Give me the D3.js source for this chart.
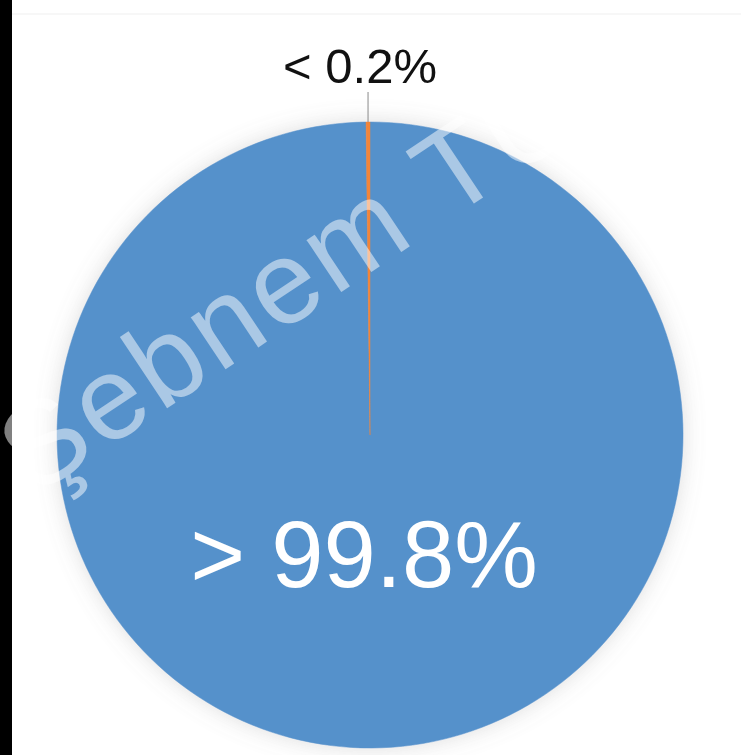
<!DOCTYPE html>
<html>
<head>
<meta charset="utf-8">
<script src="https://cdn.jsdelivr.net/npm/d3@7/dist/d3.min.js"></script>
<style>
  html, body { margin: 0; padding: 0; background: #ffffff; }
  svg { display: block; }
</style>
</head>
<body>
<svg id="chart" width="741" height="755"></svg>
<script>
// Shares of the two groups (percent), drawn clockwise from 12 o'clock
const categories = ["majority", "minority"];
const shares = [99.8, 0.2];
const labelPrefixes = ["> ", "< "];
const colors = ["#5591cb", "#f2853a"];
const watermark = "Şebnem TÜ";

const W = 741, H = 755;
const cx = 370, cy = 435, R = 313;

const svg = d3.select("#chart");

// Left dark strip of the frame
svg.append("rect").attr("x", 0).attr("y", 0).attr("width", 12).attr("height", H).attr("fill", "#000");
// Faint frame line near the top
svg.append("line").attr("x1", 12).attr("x2", W).attr("y1", 14).attr("y2", 14)
  .attr("stroke", "#f4f4f4").attr("stroke-width", 1.5);

// Soft glow around the pie
const defs = svg.append("defs");
const f = defs.append("filter").attr("id", "glow")
  .attr("x", "-20%").attr("y", "-20%").attr("width", "140%").attr("height", "140%");
f.append("feGaussianBlur").attr("in", "SourceAlpha").attr("stdDeviation", 11).attr("result", "b");
f.append("feFlood").attr("flood-color", "#7a7a7a").attr("flood-opacity", 0.25);
f.append("feComposite").attr("in2", "b").attr("operator", "in").attr("result", "s");
const m = f.append("feMerge");
m.append("feMergeNode").attr("in", "s");
m.append("feMergeNode").attr("in", "SourceGraphic");

const data = categories.map((c, i) => ({ name: c, value: shares[i], color: colors[i], prefix: labelPrefixes[i] }));

const pie = d3.pie().value(d => d.value).sort(null);
const arcs = pie(data);
const arc = d3.arc().innerRadius(0).outerRadius(R);

const g = svg.append("g").attr("transform", `translate(${cx},${cy})`);
const pieG = g.append("g").attr("filter", "url(#glow)");
pieG.selectAll("path.slice")
  .data(arcs)
  .enter().append("path")
  .attr("class", "slice")
  .attr("d", arc)
  .attr("fill", d => d.data.color)
  .attr("stroke", d => d.data.color)
  .attr("stroke-width", 0.5);

// Large label inside the majority slice
const big = arcs[0];
g.append("text")
  .attr("x", -6).attr("y", 152)
  .attr("text-anchor", "middle")
  .attr("font-family", "'Liberation Sans', Arial, sans-serif")
  .attr("font-size", 94)
  .attr("fill", "#ffffff")
  .text(big.data.prefix + big.data.value + "%");

// Small slice: leader line plus label above the pie
const small = arcs[1];
const mid = (small.startAngle + small.endAngle) / 2;
const lx = Math.sin(mid) * R;
const ly = -Math.cos(mid) * R;
g.append("line")
  .attr("x1", lx).attr("y1", ly)
  .attr("x2", lx).attr("y2", ly - 30)
  .attr("stroke", "#8a8a8a").attr("stroke-width", 1);
g.append("text")
  .attr("x", lx - 8).attr("y", ly - 39)
  .attr("text-anchor", "middle")
  .attr("font-family", "'Liberation Sans', Arial, sans-serif")
  .attr("font-size", 49)
  .attr("fill", "#111111")
  .text(small.data.prefix + small.data.value + "%");

// Watermark across the chart
svg.append("text")
  .attr("transform", "translate(34,497) rotate(-33.7)")
  .attr("font-family", "'Liberation Sans', Arial, sans-serif")
  .attr("font-size", 118)
  .attr("letter-spacing", 4)
  .attr("fill", "#ffffff")
  .attr("fill-opacity", 0.5)
  .text(watermark);
</script>
</body>
</html>
